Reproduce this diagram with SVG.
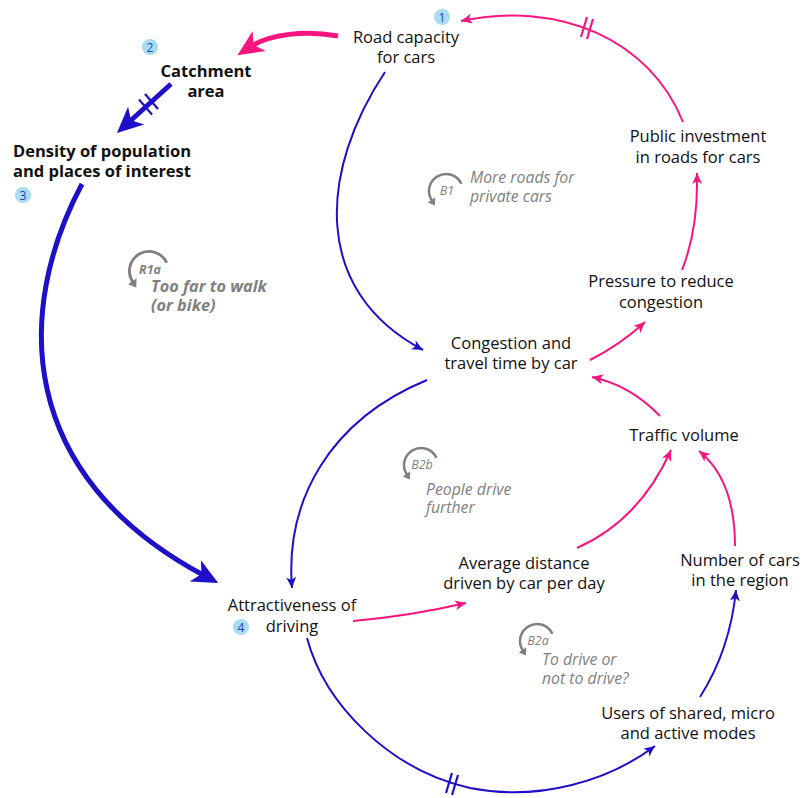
<svg xmlns="http://www.w3.org/2000/svg" width="805" height="798" viewBox="0 0 805 798">
<style>
.n{font-family:"Open Sans","Noto Sans",sans-serif;font-size:16.5px;fill:#111;text-anchor:middle}
.b{font-weight:bold}
.l{font-family:"Open Sans","Noto Sans",sans-serif;font-size:15.8px;font-style:italic;fill:#808080}
.lb{font-weight:bold;font-size:16.3px}
.it{font-family:"Open Sans","Noto Sans",sans-serif;font-size:12.5px;font-style:italic;fill:#808080;text-anchor:middle}
.c{fill:none;stroke-width:2}
.thick{fill:none;stroke-width:5}
.pk{stroke:#f7157f}
.bl{stroke:#1e0fc8}
.hash{stroke-width:2.2}
.badge circle{fill:#a9dcf2}
.badge text{font-family:"Open Sans","Noto Sans",sans-serif;font-size:12px;fill:#1f3fbf;text-anchor:middle}
.loop path{fill:none;stroke:#808080;stroke-width:2.5}
.loop polygon{fill:#808080}
</style>
<defs>
<marker id="ap" viewBox="-12 -6 13 12" markerWidth="13" markerHeight="12" refX="0" refY="0" orient="auto" markerUnits="userSpaceOnUse"><path d="M0,0 L-11,-5 L-8,0 L-11,5Z" fill="#f7157f"/></marker>
<marker id="ab" viewBox="-12 -6 13 12" markerWidth="13" markerHeight="12" refX="0" refY="0" orient="auto" markerUnits="userSpaceOnUse"><path d="M0,0 L-11,-5 L-8,0 L-11,5Z" fill="#1e0fc8"/></marker>
<marker id="tp" viewBox="-30 -14 32 28" markerWidth="32" markerHeight="28" refX="-15" refY="0" orient="auto" markerUnits="userSpaceOnUse"><path d="M0,0 L-26,-12 L-19,0 L-26,12Z" fill="#f7157f"/></marker>
<marker id="tb" viewBox="-30 -14 32 28" markerWidth="32" markerHeight="28" refX="-15" refY="0" orient="auto" markerUnits="userSpaceOnUse"><path d="M0,0 L-26,-12 L-19,0 L-26,12Z" fill="#1e0fc8"/></marker>
<g id="loopicon" class="loop"><path d="M15.41,-7.18 A17,17 0 1,0 -13.93,9.75"/><polygon points="-18.2,11.5 -10.8,6.35 -11.1,14.4"/></g>
</defs>

<g id="connectors">
<path class="thick pk" d="M338,36 C305,30 270,34 250,47" marker-end="url(#tp)"/>
<path class="thick bl" d="M171,84 L128,123" marker-end="url(#tb)"/>
<g class="bl hash"><line x1="145" y1="94" x2="158" y2="109"/><line x1="139" y1="99.5" x2="152" y2="114.5"/></g>
<path class="thick bl" d="M82,184 C15,310 15,475 205,576" marker-end="url(#tb)"/>
<path class="c bl" d="M385,72 C320,170 310,290 423,350" marker-end="url(#ab)"/>
<path class="c pk" d="M683,122 C650,40 560,0 461,21" marker-end="url(#ap)"/>
<g class="pk hash"><line x1="581" y1="37" x2="587" y2="17"/><line x1="587" y1="39" x2="593" y2="19"/></g>
<path class="c pk" d="M682,270 C692,245 698,215 697,173" marker-end="url(#ap)"/>
<path class="c pk" d="M590,360 Q620,345 645,322" marker-end="url(#ap)"/>
<path class="c pk" d="M660,416 Q630,385 592,377" marker-end="url(#ap)"/>
<path class="c bl" d="M427,380 C330,420 285,500 292,588" marker-end="url(#ab)"/>
<path class="c pk" d="M353,621 Q410,616 466,603" marker-end="url(#ap)"/>
<path class="c pk" d="M577,548 Q640,520 671,450" marker-end="url(#ap)"/>
<path class="c pk" d="M735,546 Q735,480 699,451" marker-end="url(#ap)"/>
<path class="c bl" d="M307,638 C325,705 390,770 470,788 C540,802 610,780 655,746" marker-end="url(#ab)"/>
<g class="bl hash"><line x1="446" y1="793" x2="452" y2="773"/><line x1="452" y1="795" x2="458" y2="775"/></g>
<path class="c bl" d="M700,697 Q730,650 736,590" marker-end="url(#ab)"/>
</g>

<g id="road-capacity"><text class="n" x="406" y="43">Road capacity</text><text class="n" x="406" y="63">for cars</text></g>
<g id="catchment"><text class="n b" x="206" y="77">Catchment</text><text class="n b" x="206" y="97">area</text></g>
<g id="density"><text class="n b" x="102" y="157">Density of population</text><text class="n b" x="102" y="177">and places of interest</text></g>
<g id="public-investment"><text class="n" x="698" y="142">Public investment</text><text class="n" x="698" y="163">in roads for cars</text></g>
<g id="pressure"><text class="n" x="661" y="287">Pressure to reduce</text><text class="n" x="661" y="308">congestion</text></g>
<g id="congestion"><text class="n" x="511" y="349">Congestion and</text><text class="n" x="511" y="369">travel time by car</text></g>
<g id="traffic-volume"><text class="n" x="684" y="441">Traffic volume</text></g>
<g id="average-distance"><text class="n" x="524" y="569">Average distance</text><text class="n" x="524" y="589">driven by car per day</text></g>
<g id="number-of-cars"><text class="n" x="740" y="566">Number of cars</text><text class="n" x="740" y="586">in the region</text></g>
<g id="attractiveness"><text class="n" x="292" y="611">Attractiveness of</text><text class="n" x="292" y="632">driving</text></g>
<g id="users"><text class="n" x="688" y="719">Users of shared, micro</text><text class="n" x="688" y="739">and active modes</text></g>

<g id="badges">
<g class="badge"><circle cx="442" cy="17" r="8"/><text x="442" y="21.5">1</text></g>
<g class="badge"><circle cx="150" cy="47" r="8"/><text x="150" y="51.5">2</text></g>
<g class="badge"><circle cx="23" cy="195" r="8"/><text x="23" y="199.5">3</text></g>
<g class="badge"><circle cx="241" cy="627" r="8"/><text x="241" y="631.5">4</text></g>
</g>

<g id="loop-B1"><use href="#loopicon" transform="translate(446,191)"/><text class="it" x="447" y="195">B1</text>
<text class="l" x="470" y="183">More roads for</text><text class="l" x="470" y="202">private cars</text></g>
<g id="loop-R1a"><use href="#loopicon" transform="translate(149,271) scale(1.15)"/><text class="it lb" x="150" y="274" style="font-size:12.5px">R1a</text>
<text class="l lb" x="151" y="292">Too far to walk</text><text class="l lb" x="151" y="311">(or bike)</text></g>
<g id="loop-B2b"><use href="#loopicon" transform="translate(421,465)"/><text class="it" x="422" y="469">B2b</text>
<text class="l" x="426" y="495">People drive</text><text class="l" x="426" y="513">further</text></g>
<g id="loop-B2a"><use href="#loopicon" transform="translate(537,641)"/><text class="it" x="538" y="645">B2a</text>
<text class="l" x="542" y="665">To drive or</text><text class="l" x="542" y="684">not to drive?</text></g>
</svg>
